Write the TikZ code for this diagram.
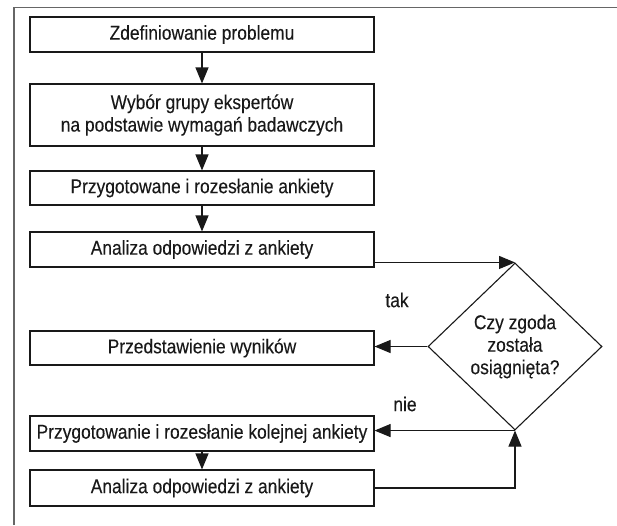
\documentclass[tikz,border=0pt]{standalone}
\usepackage{fontspec}
\setmainfont{Liberation Sans}[FakeStretch=0.87,FakeBold=0.15]
\usetikzlibrary{arrows.meta,shapes.geometric,calc}
\begin{document}
\begin{tikzpicture}[x=1pt,y=-1pt,
  font=\fontsize{20}{22.5}\selectfont,
  stepbox/.style={draw=black!90,line width=1.1pt,minimum width=344pt,inner sep=0pt,align=center,text=black!90},
  arr/.style={draw=black!90,line width=1.1pt,-{Triangle[length=16pt,width=13pt]}},
  frame/.style={draw=black!60,line width=1.4pt},
  lbl/.style={inner sep=0pt,text=black!90}]
\useasboundingbox (0,0) rectangle (617,525);
\draw[frame] (14,525) -- (14,7.5) -- (617,7.5);
\node[stepbox,minimum height=35pt] (b1) at (202,34.5) {Zdefiniowanie problemu};
\node[stepbox,minimum height=62pt] (b2) at (202,115) {Wybór grupy ekspertów\\[0pt]na podstawie wymagań badawczych};
\node[stepbox,minimum height=34pt] (b3) at (202,188) {Przygotowane i rozesłanie ankiety};
\node[stepbox,minimum height=35pt] (b4) at (202,249.5) {Analiza odpowiedzi z ankiety};
\node[stepbox,minimum height=34pt] (b5) at (202,348) {Przedstawienie wyników};
\node[stepbox,minimum height=35pt] (b6) at (202,433.5) {Przygotowanie i rozesłanie kolejnej ankiety};
\node[stepbox,minimum height=36pt] (b7) at (202,488) {Analiza odpowiedzi z ankiety};
\node[diamond,draw=black!90,line width=1.1pt,minimum width=174pt,minimum height=167pt,inner sep=0pt,align=center,text=black!90] (d) at (515,346.5) {Czy zgoda\\została\\osiągnięta?};
\node[lbl] (tak) at (397,300) {tak};
\node[lbl] (nie) at (405,404) {nie};
\draw[arr] (b1) -- (b2);
\draw[arr] (b2) -- (b3);
\draw[arr] (b3) -- (b4);
\draw[arr] (b6) -- (b7);
\draw[arr] (b4.east |- d.north) -- (d.north);
\draw[arr] (d.west) -- (d.west -| b5.east);
\draw[arr] (d.south) -- (d.south -| b6.east);
\draw[arr] (b7.east) -| (d.south);
\end{tikzpicture}
\end{document}
